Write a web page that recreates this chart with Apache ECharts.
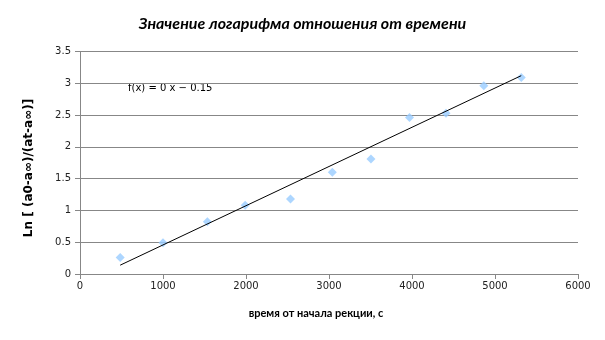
<!DOCTYPE html>
<html><head><meta charset="utf-8">
<script src="https://cdn.jsdelivr.net/npm/echarts@6/dist/echarts.min.js"></script>
<style>html,body{margin:0;padding:0;background:#fff}#c{width:605px;height:340px}</style>
</head><body><div id="c"></div>
<script>
const timeSec = [484, 1000, 1535, 1990, 2536, 3040, 3505, 3970, 4410, 4865, 5316];
const lnRatio = [0.26, 0.49, 0.82, 1.08, 1.18, 1.60, 1.81, 2.46, 2.53, 2.96, 3.09];
const trendSlope = 0.000617;
const trendIntercept = -0.16;
const chartTitle = 'Значение логарифма отношения от времени';
const xTitle = 'время от начала рекции, с';
const yTitle = 'Ln [ (a0-a∞)/(at-a∞)]';
const eqText = 'f(x) = 0 x − 0.15';

const xMin = Math.min(...timeSec), xMax = Math.max(...timeSec);
const trend = [[xMin, trendSlope*xMin + trendIntercept], [xMax, trendSlope*xMax + trendIntercept]];
const pts = timeSec.map((t,i)=>[t, lnRatio[i]]);

const chart = echarts.init(document.getElementById('c'), null, {renderer:'canvas'});
const axisCol = '#878787';
chart.setOption({
  animation:false,
  backgroundColor:'#fff',
  title:{text:chartTitle, left:'center', top:11,
    textStyle:{fontFamily:'Lato', fontStyle:'italic', fontWeight:'bold', fontSize:16, color:'#000'}},
  grid:{left:80, right:27, top:51.5, bottom:66},
  xAxis:{type:'value', min:0, max:6000, interval:1000,
    axisLine:{show:true, lineStyle:{color:axisCol}},
    axisTick:{show:true, inside:false, length:5, lineStyle:{color:axisCol}},
    splitLine:{show:false},
    axisLabel:{fontFamily:'DejaVu Sans', fontSize:10, color:'#222', margin:7, formatter:v=>String(v)}},
  yAxis:{type:'value', min:0, max:3.5, interval:0.5,
    axisLine:{show:true, lineStyle:{color:axisCol}},
    axisTick:{show:true, length:5, lineStyle:{color:axisCol}},
    splitLine:{show:true, lineStyle:{color:axisCol}},
    axisLabel:{fontFamily:'DejaVu Sans', fontSize:10, color:'#222', margin:9, formatter:v=>String(v)}},
  graphic:[
    {type:'text', x:128, y:88,
     style:{text:eqText, font:'10px "DejaVu Sans"', fill:'#000', textVerticalAlign:'middle'}},
    {type:'text', x:316, y:313,
     style:{text:xTitle, font:'bold 11px Lato', fill:'#000', textAlign:'center', textVerticalAlign:'middle'}},
    {type:'text', x:29, y:168, rotation:Math.PI/2,
     style:{text:yTitle, font:'bold 12px "DejaVu Sans"', fill:'#000', textAlign:'center', textVerticalAlign:'middle'}}
  ],
  series:[
    {type:'line', data:trend, symbol:'none', lineStyle:{color:'#000', width:1}, z:3},
    {type:'scatter', data:pts, symbol:'diamond', symbolSize:9,
     itemStyle:{color:'#99ccff'}, z:2}
  ]
});
</script></body></html>
